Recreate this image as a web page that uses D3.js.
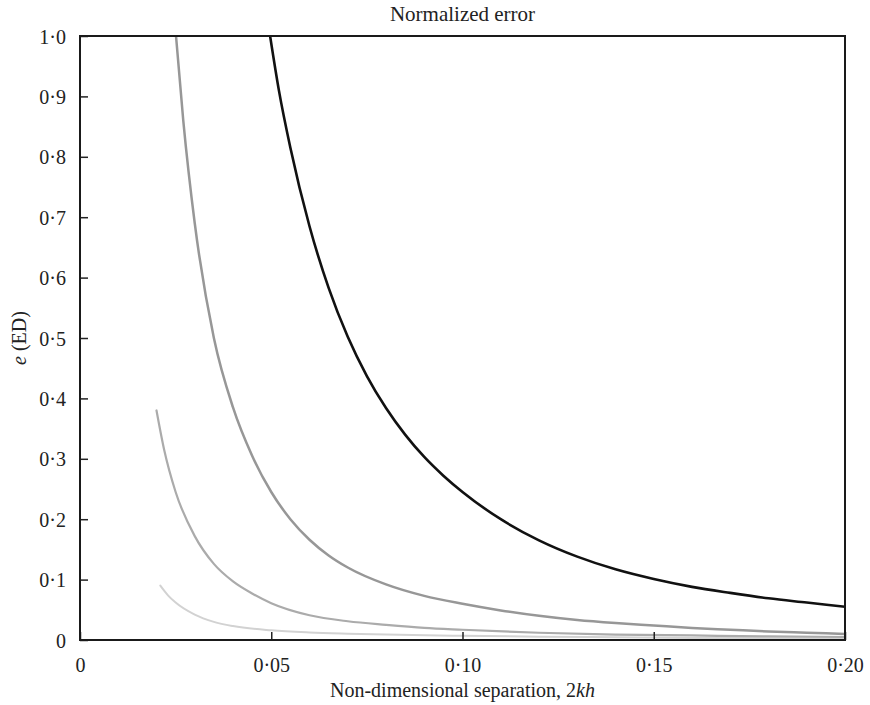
<!DOCTYPE html>
<html>
<head>
<meta charset="utf-8">
<script src="https://cdn.jsdelivr.net/npm/d3@7"></script>
<style>
  html, body { margin: 0; padding: 0; background: #fff; }
  svg { display: block; }
  text { font-family: "Liberation Serif", "Times New Roman", serif; fill: #222; }
</style>
</head>
<body>
<svg id="chart" width="870" height="705"></svg>
<script>
// Normalized error e(ED) against non-dimensional separation 2kh
const xTicks = [0, 0.05, 0.10, 0.15, 0.20];
const xTickLabels = ["0", "0·05", "0·10", "0·15", "0·20"];
const yTicks = [0, 0.1, 0.2, 0.3, 0.4, 0.5, 0.6, 0.7, 0.8, 0.9, 1.0];
const yTickLabels = ["0", "0·1", "0·2", "0·3", "0·4", "0·5", "0·6", "0·7", "0·8", "0·9", "1·0"];

const curveA_x = [0.0497, 0.052, 0.055, 0.060, 0.065, 0.070, 0.075, 0.080, 0.085, 0.090, 0.095, 0.100, 0.110, 0.120, 0.130, 0.140, 0.150, 0.160, 0.170, 0.180, 0.190, 0.200];
const curveA_y = [1.00, 0.91, 0.815, 0.685, 0.583, 0.502, 0.437, 0.384, 0.340, 0.303, 0.272, 0.245, 0.200, 0.165, 0.138, 0.117, 0.101, 0.088, 0.078, 0.069, 0.062, 0.055];

const curveB_x = [0.0251, 0.027, 0.030, 0.035, 0.040, 0.045, 0.050, 0.055, 0.060, 0.065, 0.070, 0.080, 0.090, 0.100, 0.110, 0.120, 0.130, 0.140, 0.150, 0.160, 0.170, 0.180, 0.190, 0.200];
const curveB_y = [1.00, 0.86, 0.69, 0.50, 0.385, 0.305, 0.245, 0.200, 0.166, 0.140, 0.120, 0.092, 0.073, 0.060, 0.049, 0.040, 0.033, 0.028, 0.024, 0.020, 0.017, 0.014, 0.012, 0.010];

const curveC_x = [0.020, 0.022, 0.025, 0.030, 0.035, 0.040, 0.045, 0.050, 0.060, 0.070, 0.080, 0.090, 0.100, 0.120, 0.140, 0.160, 0.180, 0.200];
const curveC_y = [0.38, 0.315, 0.245, 0.172, 0.126, 0.097, 0.077, 0.061, 0.041, 0.031, 0.025, 0.020, 0.017, 0.012, 0.009, 0.0075, 0.006, 0.005];

const curveD_x = [0.021, 0.023, 0.025, 0.030, 0.035, 0.040, 0.050, 0.060, 0.070, 0.080, 0.100, 0.120, 0.140, 0.160, 0.200];
const curveD_y = [0.090, 0.074, 0.062, 0.042, 0.030, 0.023, 0.016, 0.0125, 0.0105, 0.009, 0.007, 0.0055, 0.0045, 0.0035, 0.002];

const curves = [
  { xs: curveD_x, ys: curveD_y, color: "#d2d2d2", width: 2 },
  { xs: curveC_x, ys: curveC_y, color: "#ababab", width: 2.2 },
  { xs: curveB_x, ys: curveB_y, color: "#979797", width: 2.5 },
  { xs: curveA_x, ys: curveA_y, color: "#111111", width: 2.6 }
];

const svg = d3.select("#chart");
const margin = { left: 80, right: 25, top: 36, bottom: 65 };
const W = 870, H = 705;
const x = d3.scaleLinear().domain([0, 0.20]).range([margin.left, W - margin.right]);
const y = d3.scaleLinear().domain([0, 1.0]).range([H - margin.bottom, margin.top]);

svg.append("clipPath").attr("id", "plot-clip")
  .append("rect")
  .attr("x", x(0)).attr("y", y(1))
  .attr("width", x(0.2) - x(0)).attr("height", y(0) - y(1));

const line = d3.line()
  .x(d => x(d[0]))
  .y(d => y(d[1]))
  .curve(d3.curveMonotoneX);

const g = svg.append("g").attr("clip-path", "url(#plot-clip)");
curves.forEach(c => {
  g.append("path")
    .datum(c.xs.map((v, i) => [v, c.ys[i]]))
    .attr("d", line)
    .attr("fill", "none")
    .attr("stroke", c.color)
    .attr("stroke-width", c.width)
    .attr("stroke-linejoin", "round")
    .attr("stroke-linecap", "round");
});

// Axes with inward ticks
const xAxis = d3.axisBottom(x)
  .tickValues(xTicks)
  .tickSize(-8)
  .tickPadding(18)
  .tickFormat((d, i) => xTickLabels[i]);
const yAxis = d3.axisLeft(y)
  .tickValues(yTicks)
  .tickSize(-8)
  .tickPadding(14)
  .tickFormat((d, i) => yTickLabels[i]);

const gx = svg.append("g").attr("transform", `translate(0,${y(0)})`).call(xAxis);
const gy = svg.append("g").attr("transform", `translate(${x(0)},0)`).call(yAxis);
[gx, gy].forEach(a => {
  a.select(".domain").remove();
  a.selectAll(".tick line").attr("stroke", "#222").attr("stroke-width", 1.5);
  a.selectAll(".tick text")
    .style("font-family", '"Liberation Serif", "Times New Roman", serif')
    .style("font-size", "20px")
    .attr("fill", "#222");
});
gy.selectAll(".tick text").attr("dy", "0.35em");

// Frame
svg.append("rect")
  .attr("x", x(0)).attr("y", y(1))
  .attr("width", x(0.2) - x(0)).attr("height", y(0) - y(1))
  .attr("fill", "none").attr("stroke", "#1a1a1a").attr("stroke-width", 2);

// Title
svg.append("text")
  .attr("x", (x(0) + x(0.2)) / 2).attr("y", 21)
  .attr("text-anchor", "middle")
  .style("font-size", "21px")
  .text("Normalized error");

// X axis label
const xl = svg.append("text")
  .attr("x", (x(0) + x(0.2)) / 2).attr("y", 697)
  .attr("text-anchor", "middle")
  .style("font-size", "20px");
xl.append("tspan").text("Non-dimensional separation, 2");
xl.append("tspan").style("font-style", "italic").text("kh");

// Y axis label
const yl = svg.append("text")
  .attr("transform", `translate(26,${(y(0) + y(1)) / 2}) rotate(-90)`)
  .attr("text-anchor", "middle")
  .style("font-size", "20px");
yl.append("tspan").style("font-style", "italic").text("e");
yl.append("tspan").text(" (ED)");
</script>
</body>
</html>
